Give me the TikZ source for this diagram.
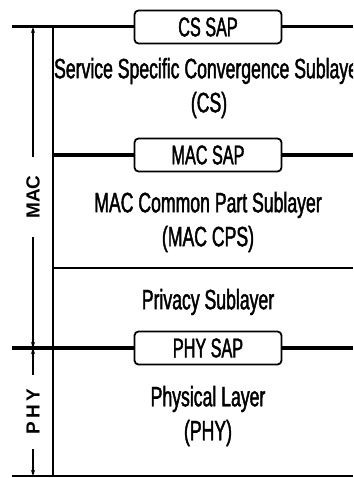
\documentclass[tikz,border=0pt]{standalone}
\usepackage{fontspec}
\setmainfont{Liberation Sans}
\newfontfamily\narrowfont[FakeStretch=0.63, FakeBold=1.5]{Liberation Sans}
\newfontfamily\sapfont[FakeStretch=0.6, FakeBold=1.5]{Liberation Sans}
\usetikzlibrary{arrows.meta,positioning}

\begin{document}
\begin{tikzpicture}[x=1pt, y=-1pt,
  sap/.style={rectangle, draw, line width=1.8pt, rounded corners=4pt, fill=white, minimum width=147pt, minimum height=33pt, inner sep=0pt, font=\sapfont\fontsize{27}{28}\selectfont},
  layertext/.style={align=center, font=\narrowfont\fontsize{28}{34}\selectfont},
  sidelabel/.style={rotate=90, fill=white, inner xsep=18pt, font=\bfseries\fontsize{19}{20}\selectfont},
  arr/.style={{Stealth[length=6pt, width=4pt]}-{Stealth[length=6pt, width=4pt]}, line width=1.2pt}
]
  \useasboundingbox (0,0) rectangle (353,478);
  \clip (0,0) rectangle (353,478);

  % layer boundaries
  \draw[line width=3pt] (12,27) -- (353,27);
  \draw[line width=3.2pt] (53,155) -- (353,155);
  \draw[line width=2.6pt] (53,268) -- (353,268);
  \draw[line width=4pt] (12,348) -- (353,348);
  \draw[line width=2.6pt] (12,476) -- (353,476);
  \draw[line width=2pt] (53,27) -- (53,476);

  % service access points
  \node[sap] (cssap) at (208,27) {CS SAP};
  \node[sap] (macsap) at (208,155) {MAC SAP};
  \node[sap] (physap) at (208,348) {PHY SAP};

  % sublayers
  \node[layertext] (cs) at (209,88) {Service Specific Convergence Sublayer\\(CS)};
  \node[layertext] (cps) at (208,222) {MAC Common Part Sublayer\\(MAC CPS)};
  \node[layertext] (priv) at (208,302) {Privacy Sublayer};
  \node[layertext] (phy) at (208,416) {Physical Layer\\(PHY)};

  % MAC / PHY extents
  \coordinate (mactop) at (33,27);
  \coordinate (macbot) at (33,348);
  \coordinate (phybot) at (33,476);
  \draw[arr] (mactop) -- (macbot) node[sidelabel, pos=0.53] (maclabel) {MAC};
  \draw[arr] (macbot) -- (phybot) node[sidelabel, pos=0.5, inner xsep=14pt] (phylabel) {P\,H\,Y};
\end{tikzpicture}
\end{document}
